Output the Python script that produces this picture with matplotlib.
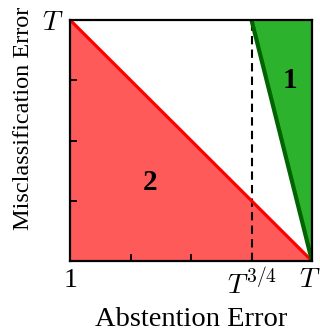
import matplotlib
matplotlib.use("Agg")
import matplotlib.pyplot as plt
from matplotlib.transforms import ScaledTranslation

plt.rcParams['font.family'] = ['Liberation Serif', 'DejaVu Serif']
plt.rcParams['mathtext.fontset'] = 'cm'

x_ticks = [0, 1, 2, 3, 4]
x_labels = ['1', '', '', r'$T^{3/4}$', r'$T$']
y_ticks = [0, 1, 2, 3, 4]
y_labels = ['', '', '', '', r'$T$']

red_x = [0, 0, 4]
red_y = [0, 4, 0]
red_line_x = [0, 4]
red_line_y = [4, 0]
green_x = [3, 4, 4]
green_y = [4, 4, 0]
green_line_x = [3, 4]
green_line_y = [4, 0]
dash_x = [3, 3]
dash_y = [0, 4]

fig = plt.figure(figsize=(3.2, 3.31), dpi=100)
ax = fig.add_axes([0.219, 0.2115, 0.756, 0.728])

ax.fill(red_x, red_y, color='#ff5a5a', lw=0, zorder=1)
ax.plot(red_line_x, red_line_y, color='#ff0000', lw=2.3, zorder=3, solid_capstyle='butt')
ax.fill(green_x, green_y, color='#2db22d', lw=0, zorder=1)
ax.plot(green_line_x, green_line_y, color='#006400', lw=3, zorder=3, solid_capstyle='butt')
ax.plot(dash_x, dash_y, color='black', lw=1.5, ls=(0, (4, 2.5)), zorder=2)

ax.text(3.64, 3.0, '1', fontsize=21, fontweight='bold', ha='center', va='center')
ax.text(1.32, 1.31, '2', fontsize=21, fontweight='bold', ha='center', va='center')

ax.set_xlim(0, 4)
ax.set_ylim(0, 4)
ax.set_xticks(x_ticks)
ax.set_xticklabels(x_labels, fontsize=20)
ax.set_yticks(y_ticks)
ax.set_yticklabels(y_labels, fontsize=20)
ax.tick_params(direction='in', length=5, width=1.3, pad=5)
for s in ax.spines.values():
    s.set_linewidth(1.6)
    s.set_zorder(4)

last = ax.get_xticklabels()[-1]
last.set_transform(last.get_transform() + ScaledTranslation(-0.025, 0, fig.dpi_scale_trans))

ax.set_xlabel('Abstention Error', fontsize=20.5)
ax.set_ylabel('Misclassification Error', fontsize=17.5)
ax.xaxis.set_label_coords(0.5, -0.19)
ax.yaxis.set_label_coords(-0.15, 0.59)

fig.savefig('out.png', dpi=100)
